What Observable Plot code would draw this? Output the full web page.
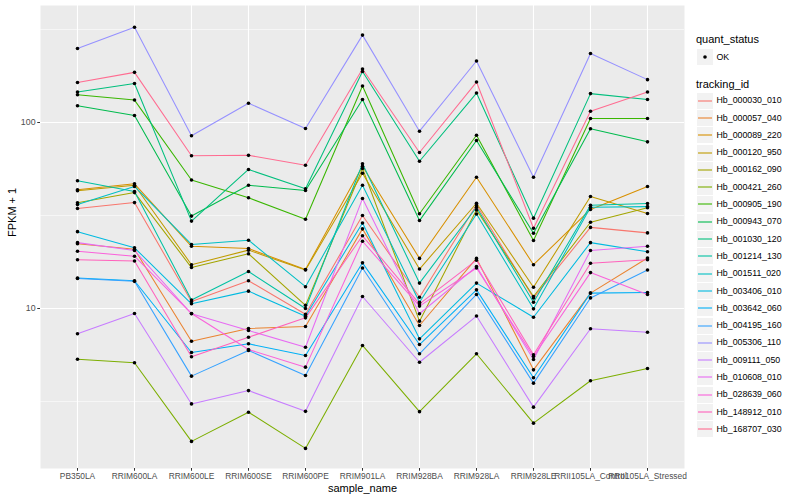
<!DOCTYPE html>
<html>
<head>
<meta charset="utf-8">
<script src="https://cdn.jsdelivr.net/npm/d3@7"></script>
<script src="https://cdn.jsdelivr.net/npm/@observablehq/plot@0.6"></script>
<style>
  html, body { margin: 0; padding: 0; background: #fff; }
  #wrap { position: relative; width: 800px; height: 500px; font-family: "Liberation Sans", Arial, Helvetica, sans-serif; }
  #chart { position: absolute; left: 0; top: 0; }
  .lg { position: absolute; color: #000; white-space: nowrap; }
  .lgtitle { font-size: 11px; }
  .lgtext { font-size: 8.8px; }
  .key { position: absolute; width: 16px; height: 16px; background: #F2F2F2; }
</style>
</head>
<body>
<div id="wrap"><div id="chart"></div></div>
<script>
// ---- data (values are FPKM + 1) ----
const samples = ["PB350LA","RRIM600LA","RRIM600LE","RRIM600SE","RRIM600PE","RRIM901LA","RRIM928BA","RRIM928LA","RRIM928LE","RRII105LA_Control","RRII105LA_Stressed"];
const ids = ["Hb_000030_010","Hb_000057_040","Hb_000089_220","Hb_000120_950","Hb_000162_090","Hb_000421_260","Hb_000905_190","Hb_000943_070","Hb_001030_120","Hb_001214_130","Hb_001511_020","Hb_003406_010","Hb_003642_060","Hb_004195_160","Hb_005306_110","Hb_009111_050","Hb_010608_010","Hb_028639_060","Hb_148912_010","Hb_168707_030"];
const colors = ["#F8766D","#EA8331","#D89000","#C09B00","#A3A500","#7CAE00","#39B600","#00BB4E","#00BF7D","#00C1A3","#00BFC4","#00BAE0","#00B0F6","#35A2FF","#9590FF","#C77CFF","#E76BF3","#FA62DB","#FF62BC","#FF6C91"];
const statusLabels = ["OK"];
const yTicks = [10, 100];
const yMinor = [3.1623, 31.623, 316.23];

const hb000030_010 = [34.5, 37.1, 10.9, 14.1, 9.32, 31.6, 11.5, 36.0, 11.4, 27.3, 25.5];
const hb000057_040 = [22.3, 20.8, 6.67, 7.81, 8.00, 26.8, 8.10, 18.6, 4.68, 12.1, 18.7];
const hb000089_220 = [43.5, 46.8, 21.6, 21.0, 16.2, 58.2, 18.6, 50.8, 17.2, 34.1, 45.3];
const hb000120_950 = [43.0, 46.0, 17.2, 20.6, 16.1, 53.4, 16.3, 36.8, 13.0, 40.0, 32.4];
const hb000162_090 = [37.0, 42.0, 16.6, 19.7, 10.4, 56.6, 8.55, 33.9, 11.6, 29.1, 34.8];
const hb000421_260 = [5.34, 5.11, 1.93, 2.77, 1.77, 6.33, 2.79, 5.71, 2.42, 4.09, 4.76];
const hb000905_190 = [141, 132, 49.1, 39.4, 30.2, 157, 32.3, 85.4, 23.2, 105, 105];
const hb000943_070 = [123, 109, 31.4, 46.0, 43.1, 133, 29.7, 80.0, 25.4, 92.5, 78.7];
const hb001030_120 = [146, 162, 29.5, 55.9, 44.0, 188, 61.9, 144, 30.6, 143, 133];
const hb001214_130 = [48.6, 42.6, 11.1, 15.8, 10.0, 60.0, 13.7, 35.0, 10.8, 35.9, 36.7];
const hb001511_020 = [36.2, 45.3, 22.1, 23.3, 13.1, 46.0, 10.8, 32.2, 9.96, 35.0, 35.3];
const hb003406_010 = [25.9, 21.2, 10.6, 12.4, 9.09, 28.8, 6.87, 13.7, 8.98, 22.6, 20.2];
const hb003642_060 = [14.6, 14.1, 5.80, 6.46, 5.59, 17.6, 6.40, 12.6, 4.24, 12.1, 12.2];
const hb004195_160 = [14.5, 14.0, 4.33, 5.95, 4.36, 16.5, 5.71, 11.9, 3.97, 11.4, 16.1];
const hb005306_110 = [250, 325, 84.8, 127, 92.8, 295, 89.8, 214, 50.8, 235, 170];
const hb009111_050 = [7.31, 9.40, 3.07, 3.62, 2.80, 11.6, 5.14, 9.11, 2.95, 7.78, 7.46];
const hb010608_010 = [22.6, 20.5, 9.37, 7.62, 6.19, 39.0, 9.37, 16.8, 5.32, 20.5, 21.6];
const hb028639_060 = [20.3, 19.1, 9.40, 6.02, 4.84, 23.0, 10.3, 16.5, 5.52, 15.6, 11.9];
const hb148912_010 = [18.3, 18.0, 5.50, 7.01, 8.91, 24.6, 10.6, 18.2, 5.64, 17.5, 18.3];
const hb168707_030 = [164, 186, 66.2, 66.6, 58.9, 194, 69.0, 165, 27.0, 115, 146];

const seriesValues = [hb000030_010, hb000057_040, hb000089_220, hb000120_950, hb000162_090, hb000421_260, hb000905_190, hb000943_070, hb001030_120, hb001214_130, hb001511_020, hb003406_010, hb003642_060, hb004195_160, hb005306_110, hb009111_050, hb010608_010, hb028639_060, hb148912_010, hb168707_030];

// ---- table for Plot ----
const rows = [];
ids.forEach((id, i) => {
  seriesValues[i].forEach((v, j) => rows.push({id, sample: samples[j], value: v, status: "OK"}));
});

const chart = Plot.plot({
  width: 690,
  height: 500,
  marginLeft: 40,
  marginRight: 6,
  marginTop: 5,
  marginBottom: 32,
  style: {fontFamily: '"Liberation Sans", Arial, Helvetica, sans-serif', background: "white", overflow: "visible"},
  x: {type: "point", domain: samples, padding: 0.6, label: null},
  y: {type: "log", domain: [1.38, 425.6], label: null},
  color: {domain: ids, range: colors},
  marks: [
    Plot.frame({fill: "#EBEBEB", stroke: "none"}),
    Plot.ruleY(yMinor, {stroke: "white", strokeWidth: 0.55}),
    Plot.ruleY(yTicks, {stroke: "white", strokeWidth: 1.1}),
    Plot.ruleX(samples, {stroke: "white", strokeWidth: 1.1}),
    Plot.line(rows, {x: "sample", y: "value", z: "id", stroke: "id", strokeWidth: 1.05}),
    Plot.dot(rows, {x: "sample", y: "value", fill: "black", r: 1.8}),
    Plot.axisX({tickSize: 2.75, tickPadding: 2.2, fontSize: 8.4, fill: "#4D4D4D", stroke: "#333333", label: null}),
    Plot.axisY({ticks: yTicks, tickFormat: d => String(d), tickSize: 2.75, tickPadding: 2.2, fontSize: 8.8, fill: "#4D4D4D", stroke: "#333333", label: null}),
    Plot.text(["sample_name"], {frameAnchor: "bottom", dy: 23, fontSize: 11, fill: "black"}),
    Plot.text(["FPKM + 1"], {frameAnchor: "left", dx: -28, rotate: -90, fontSize: 11, fill: "black"})
  ]
});
document.getElementById("chart").appendChild(chart);

// ---- legend (HTML) ----
const wrap = document.getElementById("wrap");
function add(html, cls, left, top) {
  const d = document.createElement("div");
  d.className = cls;
  d.style.left = left + "px";
  d.style.top = top + "px";
  d.innerHTML = html;
  wrap.appendChild(d);
  return d;
}
add("quant_status", "lg lgtitle", 696, 33);
statusLabels.forEach((s, i) => {
  const k = add("", "key", 697, 49 + i * 17.3);
  k.innerHTML = '<svg width="16" height="16"><circle cx="8" cy="8" r="1.8" fill="black"/></svg>';
  add(s, "lg lgtext", 716.5, 51.5 + i * 17.3);
});
add("tracking_id", "lg lgtitle", 696, 78);
ids.forEach((id, i) => {
  const top = 92.6 + i * 17.3;
  const k = add("", "key", 697, top);
  k.innerHTML = `<svg width="16" height="16"><line x1="1" x2="15" y1="8" y2="8" stroke="${colors[i]}" stroke-width="1.1"/></svg>`;
  add(id, "lg lgtext", 716.5, top + 2.6);
});
</script>
</body>
</html>
